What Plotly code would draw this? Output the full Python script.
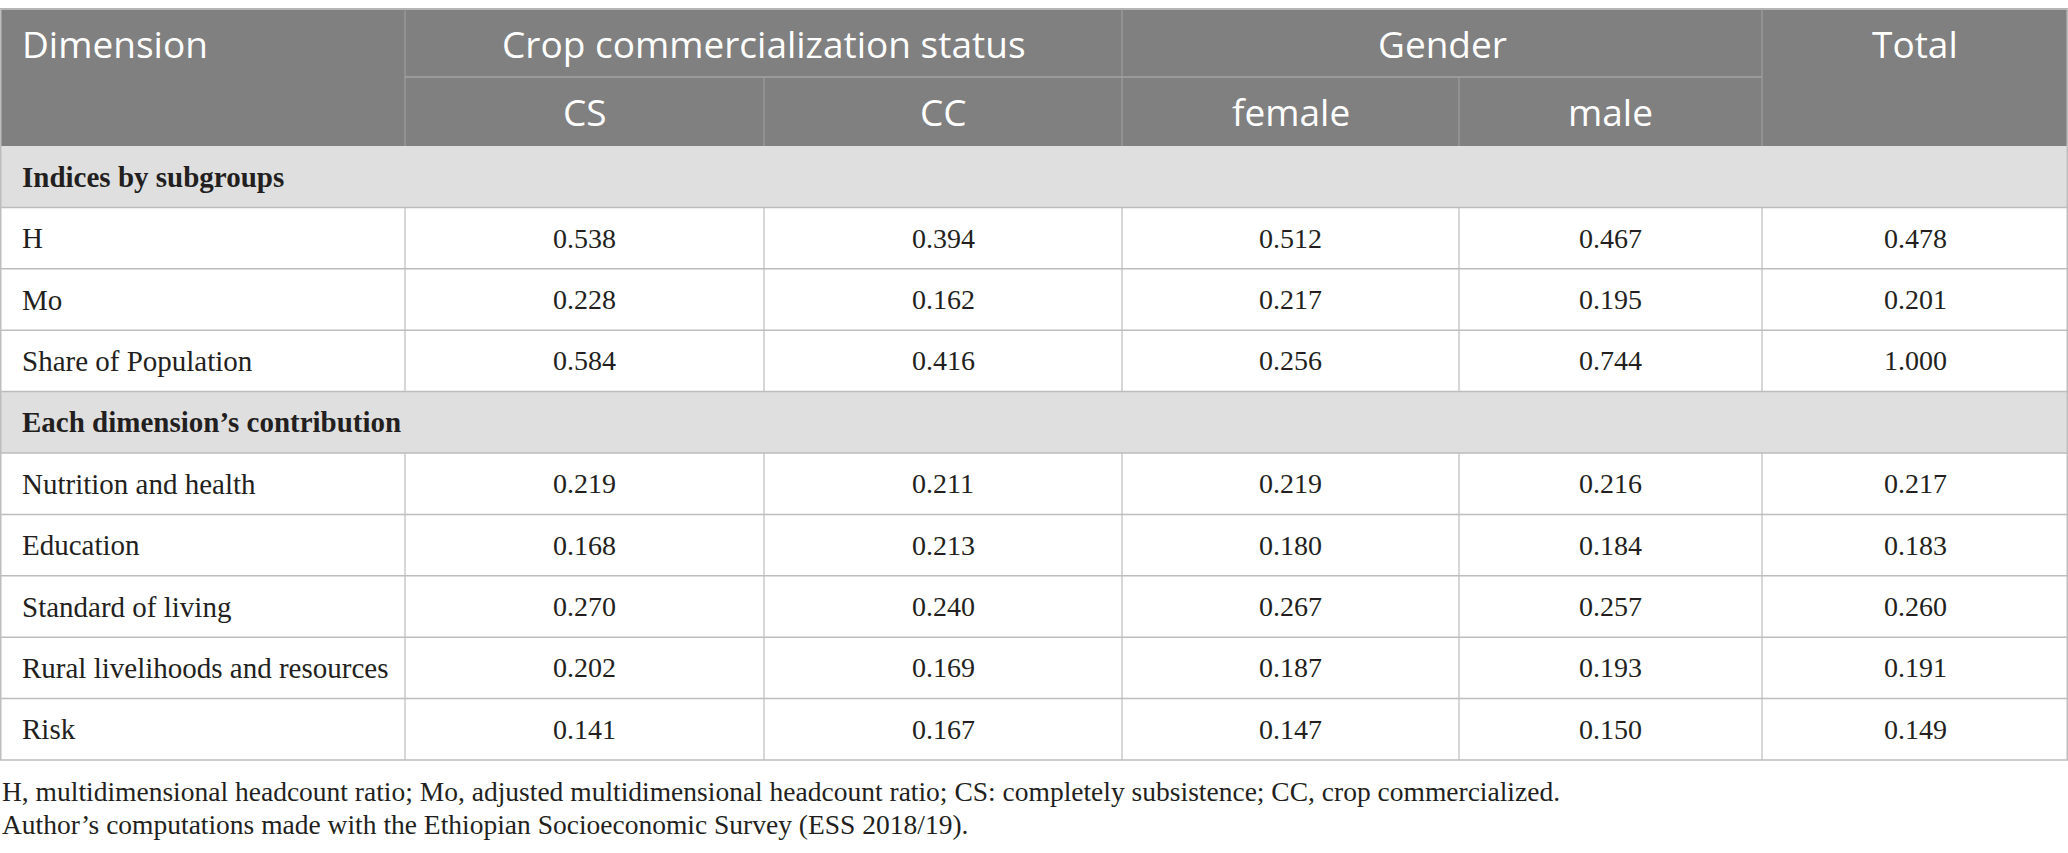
import plotly.graph_objects as go

# table content
section_titles = ["Indices by subgroups", "Each dimension’s contribution"]
dimensions = ["H", "Mo", "Share of Population",
              "Nutrition and health", "Education", "Standard of living",
              "Rural livelihoods and resources", "Risk"]
row_section = [0, 0, 0, 1, 1, 1, 1, 1]

cs = [0.538, 0.228, 0.584, 0.219, 0.168, 0.270, 0.202, 0.141]
cc = [0.394, 0.162, 0.416, 0.211, 0.213, 0.240, 0.169, 0.167]
female = [0.512, 0.217, 0.256, 0.219, 0.180, 0.267, 0.187, 0.147]
male = [0.467, 0.195, 0.744, 0.216, 0.184, 0.257, 0.193, 0.150]
total = [0.478, 0.201, 1.000, 0.217, 0.183, 0.260, 0.191, 0.149]

group_headers = ["Crop commercialization status", "Gender"]
sub_headers = ["CS", "CC", "female", "male"]
first_header = "Dimension"
total_header = "Total"

footnotes = [
    "H, multidimensional headcount ratio; Mo, adjusted multidimensional headcount ratio; "
    "CS: completely subsistence; CC, crop commercialized.",
    "Author’s computations made with the Ethiopian Socioeconomic Survey (ESS 2018/19).",
]

# layout (pixels)
W, H = 2068, 853
col_edges = [0, 405, 764, 1122, 1459, 1762, 2068]
head_top, head_mid, head_bot = 9, 77, 146
row_h = 61.4
pad_left = 20

HEAD_BG = "#7f807f"
SEC_BG = "#e0dfe0"
GRID = "#bdbdbd"
HEAD_LINE = "#a3a3a3"
TXT = "#231f20"
SANS = "Open Sans"
SERIF = "Liberation Serif"
HEAD_SIZE = 37
LABEL_SIZE = 29
NUM_SIZE = 28
NOTE_SIZE = 27.5

fig = go.Figure()
shapes = []
annots = []


def hline(y, x0, x1, color=GRID, w=1.5):
    shapes.append(dict(type="line", x0=x0, x1=x1, y0=y, y1=y, line=dict(color=color, width=w)))


def vline(x, y0, y1, color=GRID, w=1.2):
    shapes.append(dict(type="line", x0=x, x1=x, y0=y0, y1=y1, line=dict(color=color, width=w)))


def text(x, y, s, size, color=TXT, family=SERIF, align="center"):
    annots.append(dict(x=x, y=y, text=s, showarrow=False, xanchor=align, yanchor="middle",
                       font=dict(size=size, color=color, family=family)))


# header block
shapes.append(dict(type="rect", x0=0, x1=W, y0=head_top, y1=head_bot,
                   fillcolor=HEAD_BG, line=dict(width=0), layer="below"))
hline(head_top, 0, W, color="#b5b5b5", w=2)
hline(head_mid, col_edges[1], col_edges[5], color=HEAD_LINE, w=1.5)
for i, x in enumerate(col_edges[1:-1], start=1):
    if i in (2, 4):
        vline(x, head_mid, head_bot, color=HEAD_LINE, w=1)
    else:
        vline(x, head_top, head_bot, color=HEAD_LINE, w=1)

y_top_txt = (head_top + head_mid) / 2
y_sub_txt = (head_mid + head_bot) / 2
text(pad_left, y_top_txt, first_header, HEAD_SIZE, color="white", family=SANS, align="left")
text((col_edges[1] + col_edges[3]) / 2, y_top_txt, group_headers[0], HEAD_SIZE, color="white", family=SANS)
text((col_edges[3] + col_edges[5]) / 2, y_top_txt, group_headers[1], HEAD_SIZE, color="white", family=SANS)
text((col_edges[5] + col_edges[6]) / 2, y_top_txt, total_header, HEAD_SIZE, color="white", family=SANS)
for j, s in enumerate(sub_headers):
    text((col_edges[j + 1] + col_edges[j + 2]) / 2, y_sub_txt, s, HEAD_SIZE, color="white", family=SANS)

# body rows
columns = [cs, cc, female, male, total]
y = head_bot
prev_sec = -1
for i, name in enumerate(dimensions):
    if row_section[i] != prev_sec:
        prev_sec = row_section[i]
        shapes.append(dict(type="rect", x0=0, x1=W, y0=y, y1=y + row_h,
                           fillcolor=SEC_BG, line=dict(width=0), layer="below"))
        text(pad_left, y + row_h / 2, "<b>" + section_titles[prev_sec] + "</b>", LABEL_SIZE, align="left")
        hline(y + row_h, 0, W)
        y += row_h
    text(pad_left, y + row_h / 2, name, LABEL_SIZE, align="left")
    for j, col in enumerate(columns):
        text((col_edges[j + 1] + col_edges[j + 2]) / 2, y + row_h / 2, f"{col[i]:.3f}", NUM_SIZE)
    for x in col_edges[1:-1]:
        vline(x, y, y + row_h)
    hline(y + row_h, 0, W)
    y += row_h

table_bot = y
vline(0.5, head_top, table_bot, w=2)
vline(W - 0.5, head_top, table_bot, w=2)

# notes under the table
text(0, table_bot + 31, footnotes[0], NOTE_SIZE, align="left")
text(0, table_bot + 64, footnotes[1], NOTE_SIZE, align="left")

fig.update_layout(
    width=W, height=H,
    margin=dict(l=0, r=0, t=0, b=0),
    paper_bgcolor="white", plot_bgcolor="white",
    xaxis=dict(range=[0, W], visible=False, fixedrange=True),
    yaxis=dict(range=[H, 0], visible=False, fixedrange=True),
    shapes=shapes, annotations=annots,
    showlegend=False,
)

# drop the default page margin so the figure fills the window exactly
fig.write_html("out.html", config=dict(displayModeBar=False),
               post_script="document.body.style.margin='0';document.body.style.overflow='hidden';")
